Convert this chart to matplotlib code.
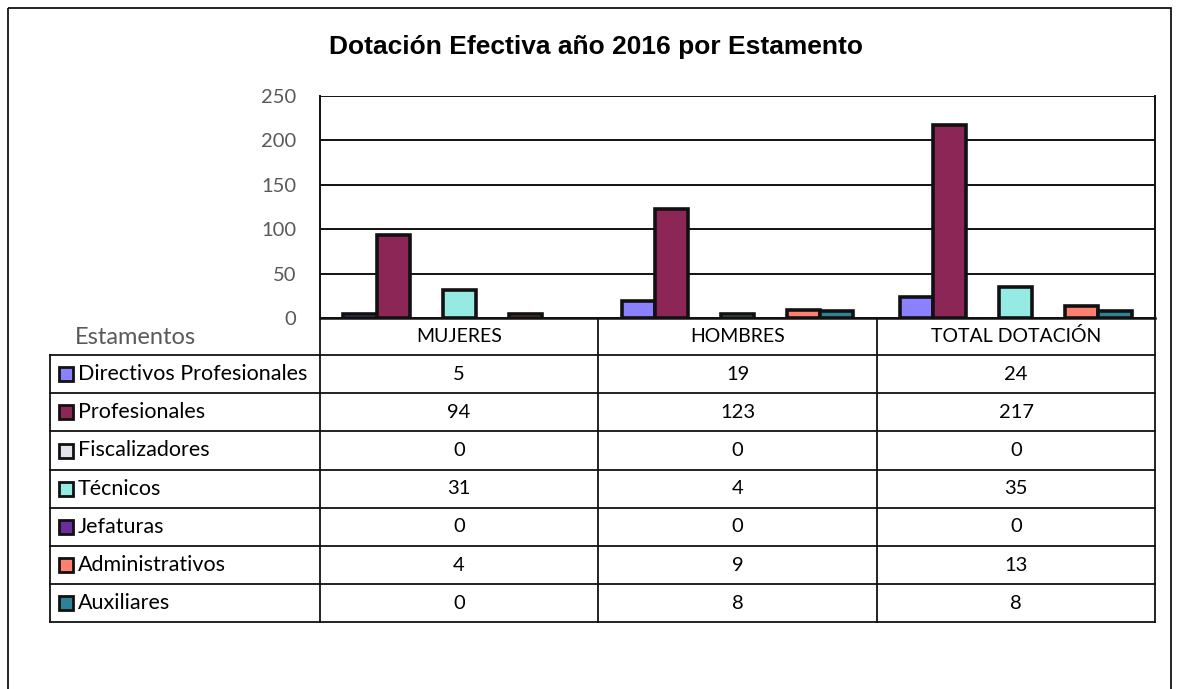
import matplotlib.pyplot as plt
from matplotlib.patches import Rectangle
import numpy as np

# Data
categories = ['MUJERES', 'HOMBRES', 'TOTAL DOTACIÓN']
series_names = ['Directivos Profesionales', 'Profesionales', 'Fiscalizadores',
                'Técnicos', 'Jefaturas', 'Administrativos', 'Auxiliares']
directivos = [5, 19, 24]
profesionales = [94, 123, 217]
fiscalizadores = [0, 0, 0]
tecnicos = [31, 4, 35]
jefaturas = [0, 0, 0]
administrativos = [4, 9, 13]
auxiliares = [0, 8, 8]
series_values = [directivos, profesionales, fiscalizadores, tecnicos,
                 jefaturas, administrativos, auxiliares]
colors = ['#8B80FF', '#8B2656', '#E4E2EC', '#96EAE4', '#6B2C9C', '#FF8070', '#2E8296']
yticks = [0, 50, 100, 150, 200, 250]

W, H = 1179, 689
fig = plt.figure(figsize=(W / 100, H / 100), dpi=100)

body_font = ['Lato', 'DejaVu Sans']
title_font = ['Liberation Sans Narrow', 'Liberation Sans', 'DejaVu Sans']

# helper: pixel box -> figure fraction
def fbox(x0, y0, x1, y1):
    return [x0 / W, 1 - y1 / H, (x1 - x0) / W, (y1 - y0) / H]

# outer frame
bg = fig.add_axes([0, 0, 1, 1])
bg.set_xlim(0, W)
bg.set_ylim(H, 0)
bg.axis('off')
bg.add_patch(Rectangle((8, 8), 1163, 700, fill=False, ec='black', lw=1.2))

fig.text(596 / W, 1 - 47 / H, 'Dotación Efectiva año 2016 por Estamento',
         ha='center', va='center', fontsize=19, fontweight='bold', family=title_font)

# bar chart
px0, py0, px1, py1 = 320, 96, 1155, 318
ax = fig.add_axes(fbox(px0, py0, px1, py1))
n = len(series_names)
x = np.arange(len(categories))
gap = 1.42
bw = 1 / (n + gap)
for i, (vals, c) in enumerate(zip(series_values, colors)):
    offs = x - 0.5 + gap * bw / 2 + (i + 0.5) * bw
    lws = [2.6 if v > 0 else 0 for v in vals]
    ax.bar(offs, vals, width=bw, color=c, edgecolor='#111111', linewidth=lws, zorder=3)
ax.set_xlim(-0.5, len(categories) - 0.5)
ax.set_ylim(0, 250)
ax.set_yticks(yticks)
ax.set_yticklabels([str(t) for t in yticks], color='#595959', fontsize=14.5, family=body_font)
ax.tick_params(axis='y', length=0, pad=17)
ax.set_xticks([])
ax.grid(axis='y', color='#111111', lw=1.4, zorder=0)
ax.spines['top'].set_visible(False)
for s in ['left', 'right']:
    ax.spines[s].set_color('#111111')
    ax.spines[s].set_linewidth(1.4)
ax.spines['bottom'].set_color('#111111')
ax.spines['bottom'].set_linewidth(1.8)

# data table (pixel coordinates)
tb = fig.add_axes([0, 0, 1, 1])
tb.set_xlim(0, W)
tb.set_ylim(H, 0)
tb.axis('off')
col_x = [320, 598, 877, 1155]
label_x0 = 50
head_y0, head_y1 = 318, 355
row_h = 38.2
rows_y = [head_y1 + k * row_h for k in range(n + 1)]
lc = '#111111'
for cx in col_x:
    tb.plot([cx, cx], [head_y0, rows_y[-1]], color=lc, lw=1.3)
tb.plot([label_x0, label_x0], [head_y1, rows_y[-1]], color=lc, lw=1.3)
for ry in rows_y:
    tb.plot([label_x0, col_x[-1]], [ry, ry], color=lc, lw=1.3)
tb.text(75, 338, 'Estamentos', ha='left', va='center', fontsize=17, color='#595959', family=body_font)
for j, cat in enumerate(categories):
    tb.text((col_x[j] + col_x[j + 1]) / 2, (head_y0 + head_y1) / 2, cat,
            ha='center', va='center', fontsize=14, family=body_font)
for i, (name, vals, c) in enumerate(zip(series_names, series_values, colors)):
    cy = (rows_y[i] + rows_y[i + 1]) / 2
    tb.add_patch(Rectangle((59, cy - 7), 14, 14, fc=c, ec=lc, lw=2))
    tb.text(78, cy, name, ha='left', va='center', fontsize=15.5, family=body_font)
    for j, v in enumerate(vals):
        tb.text((col_x[j] + col_x[j + 1]) / 2, cy, str(v), ha='center', va='center',
                fontsize=14.5, family=body_font)

fig.savefig('out.png', dpi=100)
